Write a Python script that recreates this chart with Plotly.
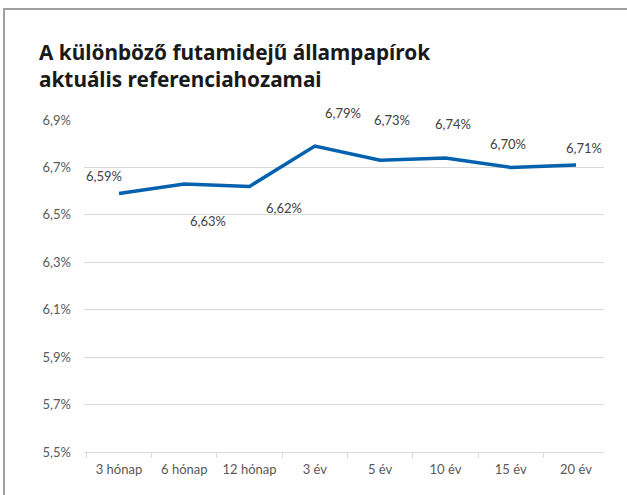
import plotly.graph_objects as go

categories = ["3 hónap", "6 hónap", "12 hónap", "3 év", "5 év", "10 év", "15 év", "20 év"]
yields = [6.59, 6.63, 6.62, 6.79, 6.73, 6.74, 6.70, 6.71]
y_ticks = [5.5, 5.7, 5.9, 6.1, 6.3, 6.5, 6.7, 6.9]
y_tick_text = ["5,5%", "5,7%", "5,9%", "6,1%", "6,3%", "6,5%", "6,7%", "6,9%"]
title_text = "A különböző futamidejű állampapírok<br>aktuális referenciahozamai"

# label offsets (pixels) relative to each point
label_dx = [-15, 24, 34, 28, 12, 8, -3, 8]
label_dy = [18, -37, -22, 33, 40, 34, 23, 17]

W, H = 627, 495
L, R, T, B = 84, 23, 120, 43
pw, ph = W - L - R, H - T - B

fig = go.Figure()
fig.add_trace(go.Scatter(
    x=categories, y=yields, mode="lines",
    line=dict(color="#0461AE", width=3.5),
    hoverinfo="skip", showlegend=False,
))

for c, v, dx, dy in zip(categories, yields, label_dx, label_dy):
    fig.add_annotation(
        x=c, y=v, xref="x", yref="y",
        text=f"{v:.2f}".replace(".", ",") + "%",
        showarrow=False, xshift=dx, yshift=dy,
        font=dict(family="Lato", size=13, color="#404040"),
    )

# title
fig.add_annotation(
    text=title_text, xref="paper", yref="paper",
    x=(37 - L) / pw, y=(H - B - 36) / ph, xanchor="left", yanchor="top",
    align="left", showarrow=False,
    font=dict(family="Noto Sans", size=20.8, color="#1a1a1a", weight="bold"),
)

# frame (top and left edges visible; others fall outside the page)
x_left = (4 - L) / pw
y_top = (H - B - 9) / ph
fig.add_shape(type="rect", xref="paper", yref="paper", layer="below",
              x0=x_left, x1=(W - L + 20) / pw, y0=y_top, y1=-(B + 20) / ph,
              line=dict(color="#A0A0A0", width=2), fillcolor="rgba(0,0,0,0)")

fig.update_layout(
    width=W, height=H,
    margin=dict(l=L, r=R, t=T, b=B),
    paper_bgcolor="white", plot_bgcolor="white",
    xaxis=dict(
        type="category", showgrid=False, showline=True, linecolor="#D9D9D9", linewidth=1,
        ticks="outside", tickson="boundaries", ticklen=5, tickcolor="#D9D9D9",
        ticklabelstandoff=5,
        tickfont=dict(family="Lato", size=13, color="#595959"),
        fixedrange=True,
    ),
    yaxis=dict(
        range=[5.5, 6.9], tickmode="array", tickvals=y_ticks, ticktext=y_tick_text,
        showgrid=True, gridcolor="#D9D9D9", gridwidth=1, zeroline=False,
        showline=False, ticks="", ticklabelstandoff=12,
        tickfont=dict(family="Lato", size=13, color="#595959"),
        fixedrange=True,
    ),
)

fig.write_html("out.html", config={"displayModeBar": False},
               post_script="document.body.style.margin='0';")
